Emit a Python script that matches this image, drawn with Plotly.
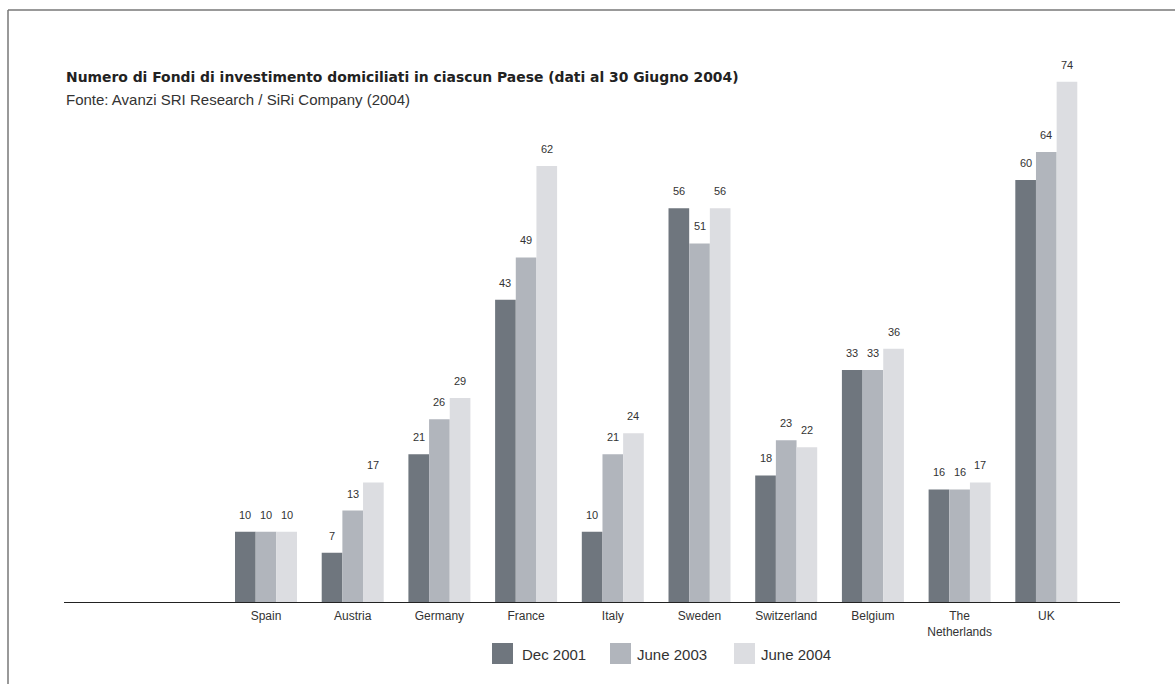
import plotly.graph_objects as go

countries = ["Spain", "Austria", "Germany", "France", "Italy", "Sweden",
             "Switzerland", "Belgium", "The<br>Netherlands", "UK"]
series_names = ["Dec 2001", "June 2003", "June 2004"]
dec_2001 = [10, 7, 21, 43, 10, 56, 18, 33, 16, 60]
june_2003 = [10, 13, 26, 49, 21, 51, 23, 33, 16, 64]
june_2004 = [10, 17, 29, 62, 24, 56, 22, 36, 17, 74]
colors = ["#6f767e", "#b1b5bc", "#dcdde1"]

title = "Numero di Fondi di investimento domiciliati in ciascun Paese (dati al 30 Giugno 2004)"
subtitle = "Fonte: Avanzi SRI Research / SiRi Company (2004)"

FONT = "Liberation Sans, Arial, sans-serif"
W, H = 1175, 684
ML, MR, MT, MB = 64, 55, 50, 82
PW, PH = W - ML - MR, H - MT - MB
BARGAP = 0.285


def px_to_paper(px, py):
    return (px - ML) / PW, (H - MB - py) / PH


all_series = [dec_2001, june_2003, june_2004]
fig = go.Figure()
for name, vals, col in zip(series_names, all_series, colors):
    fig.add_trace(go.Bar(
        x=countries, y=vals, name=name,
        marker=dict(color=col, line=dict(width=0)),
        showlegend=False, hoverinfo="skip",
    ))

# value labels above bars (positioned through the category/value axes)
w = (1 - BARGAP) / len(all_series)
for k, vals in enumerate(all_series):
    for i, v in enumerate(vals):
        fig.add_annotation(x=i + (k - (len(all_series) - 1) / 2) * w, y=v, text=str(v),
                           xref="x", yref="y", showarrow=False, yanchor="bottom", yshift=9,
                           font=dict(size=11, color="#333333", family=FONT))

fig.update_layout(
    width=W, height=H,
    paper_bgcolor="white", plot_bgcolor="white",
    margin=dict(l=ML, r=MR, t=MT, b=MB),
    barmode="group", bargap=BARGAP, bargroupgap=0,
    font=dict(family=FONT, color="#333333"),
    showlegend=False,
    xaxis=dict(type="category", range=[-2.33, 9.85], showline=True, linecolor="#222222",
               linewidth=1, ticks="", showgrid=False, ticklabelstandoff=3,
               tickfont=dict(size=12, color="#333333", family=FONT)),
    yaxis=dict(range=[0, 78.5], visible=False, showgrid=False),
)

tx, ty = px_to_paper(64, 77)
fig.add_annotation(text="<b>" + title + "</b>", xref="paper", yref="paper",
                   x=tx, y=ty, xanchor="left", yanchor="middle", showarrow=False,
                   font=dict(size=13.9, color="#222222", family="DejaVu Sans, sans-serif"))
sx, sy = px_to_paper(64, 100)
fig.add_annotation(text=subtitle, xref="paper", yref="paper",
                   x=sx, y=sy, xanchor="left", yanchor="middle", showarrow=False,
                   font=dict(size=15, color="#333333", family=FONT))

# custom legend with large square swatches
legend_swatch_x = [492, 610, 734]
legend_text_x = [520, 635, 759]
for name, col, lx, ltx in zip(series_names, colors, legend_swatch_x, legend_text_x):
    x0, y0 = px_to_paper(lx, 664)
    x1, y1 = px_to_paper(lx + 21, 643)
    fig.add_shape(type="rect", xref="paper", yref="paper", x0=x0, x1=x1, y0=y0, y1=y1,
                  line=dict(width=0), fillcolor=col)
    ax, ay = px_to_paper(ltx, 654)
    fig.add_annotation(text=name, xref="paper", yref="paper", x=ax, y=ay,
                       xanchor="left", yanchor="middle", showarrow=False,
                       font=dict(size=15, color="#333333", family=FONT))

# frame lines
fx0, fy0 = px_to_paper(8, 10)
fx1, fy1 = px_to_paper(1190, 700)
fig.add_shape(type="line", xref="paper", yref="paper", x0=fx0, x1=fx1, y0=fy0, y1=fy0,
              line=dict(color="#777777", width=1.5))
fig.add_shape(type="line", xref="paper", yref="paper", x0=fx0, x1=fx0, y0=fy0, y1=fy1,
              line=dict(color="#777777", width=1.5))

fig.write_html("out.html", config={"displayModeBar": False},
               post_script="document.body.style.margin='0px';")
